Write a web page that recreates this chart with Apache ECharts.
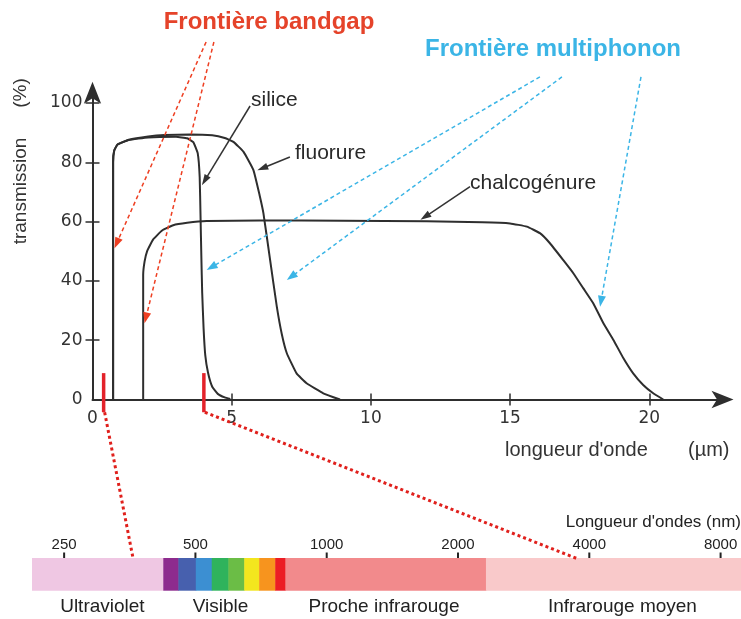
<!DOCTYPE html>
<html><head><meta charset="utf-8">
<script src="https://cdn.jsdelivr.net/npm/echarts@6/dist/echarts.min.js"></script>
<style>html,body{margin:0;padding:0;background:#fff}#c{width:741px;height:619px}</style>
</head><body><div id="c"></div>
<script>
// ---------------- DATA ----------------
// transmission (%) vs longueur d'onde (µm)
const silice = [[0.74,0],[0.74,80],[0.78,84],[0.9,86],[1.3,87.5],[2,88.4],[3,88.6],[3.4,88.1],[3.62,86.8],[3.78,83],[3.85,75],[3.88,62],[3.91,48],[3.94,36],[3.99,24],[4.05,15],[4.15,9],[4.3,4.3],[4.5,1.9],[4.75,0.7],[4.95,0.2]];
const fluorure = [[0.74,0],[0.74,80],[0.78,84],[0.9,86],[1.3,87.6],[2,88.7],[2.6,89.2],[3.5,89.4],[4.3,89.1],[4.75,88.2],[5.06,86.9],[5.42,83.6],[5.78,77.4],[6.0,69],[6.14,62.8],[6.38,47],[6.62,31.3],[6.8,22],[6.98,15.6],[7.33,8.8],[7.69,5.5],[8.29,2.1],[8.89,0]];
const chalcogenure = [[1.82,0],[1.82,42],[1.87,46.5],[1.96,50],[2.18,54],[2.5,57],[2.9,58.8],[3.4,59.6],[4.1,60.2],[6,60.4],[9,60.3],[12,60.1],[14,59.8],[15,59.4],[15.6,58.3],[16.07,56.1],[16.43,52.7],[16.91,47],[17.27,42.6],[17.63,37.5],[17.99,32.4],[18.35,25.7],[18.71,20.1],[19.07,13.9],[19.42,8.8],[19.78,4.9],[20.14,2.1],[20.5,0]];
const xTickValues = [0,5,10,15,20];
const yTickValues = [0,20,40,60,80,100];
const curveNames = ['silice','fluorure','chalcogénure'];
// red markers on the µm axis and where their dotted lines land on the nm bar
const markerUm = [0.4, 4.0];
const markerTargetNm = [360, 3770];
// spectrum bar (nm, logarithmic)
const bandEdgesNm = [211, 422, 457, 501, 545, 595, 647, 700, 762, 804, 2318, 8910];
const regionNames = ['Ultraviolet','Visible','Proche infrarouge','Infrarouge moyen'];
const regionCentersNm = [306, 571, 1353, 4765];
const spectrumTicksNm = [250, 500, 1000, 2000, 4000, 8000];

// ---------------- STYLE ----------------
const bandColors = ['#efc7e3','#8d2b8e','#4760ae','#3c8fd2','#2fb35c','#6bbd46','#f3e61e','#f7941e','#ec1c24','#f28a8c','#f9c9ca'];
const ink = '#2e2e2e';
const red = '#ee3f22';
const blue = '#3bb5e6';
const FONT = 'Liberation Sans, Arial, sans-serif';

const chart = echarts.init(document.getElementById('c'), null, {renderer:'canvas'});

const mainX = {min:0, max:22.7, interval:5};
const mainY = {min:0, max:104.5, interval:20};

const option = {
  backgroundColor:'#fff',
  animation:false,
  grid:[
    {left:92.5, right:16.5, top:89.7, bottom:219.5},
    {left:32, right:0, top:558, bottom:28.3}
  ],
  xAxis:[
    {type:'value', gridIndex:0, min:mainX.min, max:mainX.max, interval:mainX.interval,
     axisLine:{show:true, lineStyle:{color:ink, width:2}, symbol:['none','arrow'], symbolSize:[13,22], symbolOffset:[0,9]},
     axisTick:{show:true, length:6, lineStyle:{color:ink, width:1.5}, customValues: xTickValues.filter(v=>v>0)},
     axisLabel:{show:true, margin:11, color:'#333', fontSize:17, fontFamily:'DejaVu Sans', customValues:xTickValues},
     splitLine:{show:false}},
    {type:'value', gridIndex:0, min:mainX.min, max:mainX.max, interval:mainX.interval, position:'bottom',
     axisLine:{show:false},
     axisTick:{show:true, inside:true, length:6, lineStyle:{color:ink, width:1.5}, customValues: xTickValues.filter(v=>v>0)},
     axisLabel:{show:false}, splitLine:{show:false}},
    {type:'log', gridIndex:1, min:bandEdgesNm[0], max:bandEdgesNm[bandEdgesNm.length-1],
     axisLine:{show:false}, axisTick:{show:false}, axisLabel:{show:false}, splitLine:{show:false}}
  ],
  yAxis:[
    {type:'value', gridIndex:0, min:mainY.min, max:mainY.max, interval:mainY.interval,
     axisLine:{show:true, lineStyle:{color:ink, width:2}, symbol:['none','arrow'], symbolSize:[13,22], symbolOffset:[0,8]},
     axisTick:{show:true, length:7, lineStyle:{color:ink, width:1.5}, customValues: yTickValues.filter(v=>v>0)},
     axisLabel:{show:true, margin:10, color:'#333', fontSize:17, fontFamily:'DejaVu Sans', customValues:yTickValues},
     splitLine:{show:false}},
    {type:'value', gridIndex:0, min:mainY.min, max:mainY.max, interval:mainY.interval, position:'left',
     axisLine:{show:false},
     axisTick:{show:true, inside:true, length:7, lineStyle:{color:ink, width:1.5}, customValues: yTickValues.filter(v=>v>0)},
     axisLabel:{show:false}, splitLine:{show:false}},
    {type:'value', gridIndex:1, min:0, max:1, show:false, splitLine:{show:false}}
  ],
  series:[
    ...[silice, fluorure, chalcogenure].map((d,i)=>({
      type:'line', name:curveNames[i], xAxisIndex:0, yAxisIndex:0, data:d,
      showSymbol:false, symbol:'none', smooth:0.12,
      lineStyle:{color:ink, width:2}, z:3
    })),
    {type:'custom', name:'bandes', xAxisIndex:2, yAxisIndex:2, clip:false,
     data: bandEdgesNm.slice(0,-1).map((e,i)=>[e, bandEdgesNm[i+1], i]),
     encode:{x:[0,1]},
     renderItem:function(params, api){
       const p0 = api.coord([api.value(0), 1]);
       const p1 = api.coord([api.value(1), 0]);
       return {type:'rect', shape:{x:p0[0], y:p0[1], width:p1[0]-p0[0]+0.5, height:p1[1]-p0[1]},
               style:{fill:bandColors[api.value(2)]}};
     }},
    {type:'custom', name:'graduations', xAxisIndex:2, yAxisIndex:2, clip:false,
     data: spectrumTicksNm.map(v=>[v]),
     encode:{x:0},
     renderItem:function(params, api){
       const v = api.value(0);
       const p = api.coord([v, 1]);
       return {type:'group', children:[
         {type:'line', shape:{x1:p[0], y1:p[1]-5.5, x2:p[0], y2:p[1]}, style:{stroke:'#222', lineWidth:2}},
         {type:'text', x:p[0], y:p[1]-13, style:{text:String(v), fill:'#222', font:'15px '+FONT, align:'center', verticalAlign:'middle', textAlign:'center', textVerticalAlign:'middle'}}
       ]};
     }},
    {type:'custom', name:'régions', xAxisIndex:2, yAxisIndex:2, clip:false,
     data: regionCentersNm.map((v,i)=>[v,i]),
     encode:{x:0},
     renderItem:function(params, api){
       const p = api.coord([api.value(0), 0]);
       return {type:'text', x:p[0], y:p[1]+16, style:{text:regionNames[api.value(1)], fill:'#222', font:'19px '+FONT, align:'center', verticalAlign:'middle', textAlign:'center', textVerticalAlign:'middle'}};
     }}
  ]
};
chart.setOption(option);

// ---------------- annotations (positioned through the axes) ----------------
const P = p => chart.convertToPixel({xAxisIndex:0, yAxisIndex:0}, p);
const S = p => chart.convertToPixel({xAxisIndex:2, yAxisIndex:2}, p);

function arrow(a, b, color, width, dash, headLen, headW){
  const dx=b[0]-a[0], dy=b[1]-a[1], L=Math.hypot(dx,dy), ux=dx/L, uy=dy/L;
  const bx=b[0]-ux*headLen, by=b[1]-uy*headLen;
  return [
    {type:'line', shape:{x1:a[0],y1:a[1],x2:bx+ux*1,y2:by+uy*1}, style:{stroke:color, lineWidth:width, lineDash:dash}, z:10},
    {type:'polygon', shape:{points:[[b[0],b[1]],[bx-uy*headW/2, by+ux*headW/2],[bx+uy*headW/2, by-ux*headW/2]]}, style:{fill:color}, z:10}
  ];
}
function txt(x, y, s, font, color, align, rot){
  return {type:'text', x:x, y:y, rotation:rot||0, z:10,
    style:{text:s, font:font, fill:color, align:align||'left', verticalAlign:'middle', textAlign:align||'left', textVerticalAlign:'middle'}};
}

const g = [];
// titles
g.push(txt(269, 22, 'Frontière bandgap', 'bold 24px '+FONT, '#e5432a', 'center'));
g.push(txt(553, 49, 'Frontière multiphonon', 'bold 24px '+FONT, blue, 'center'));
// axis names
g.push(txt(21, 191, 'transmission', '19px '+FONT, '#333', 'center', Math.PI/2));
g.push(txt(21, 93, '(%)', '19px '+FONT, '#333', 'center', Math.PI/2));
g.push(txt(505, 450, "longueur d'onde", '20px '+FONT, '#333', 'left'));
g.push(txt(688, 450, '(µm)', '20px '+FONT, '#333', 'left'));
g.push(txt(741, 522, "Longueur d'ondes (nm)", '17px '+FONT, '#222', 'right'));
// curve labels + black arrows
g.push(txt(251, 100.5, curveNames[0], '21px '+FONT, '#2a2a2a', 'left'));
g.push(txt(295, 153, curveNames[1], '21px '+FONT, '#2a2a2a', 'left'));
g.push(txt(470, 183, curveNames[2], '21px '+FONT, '#2a2a2a', 'left'));
g.push(...arrow(P([5.66,99.0]), P([3.93,72.3]), '#333', 1.5, null, 11, 7));
g.push(...arrow(P([7.09,81.8]), P([5.92,77.3]), '#333', 1.5, null, 11, 7));
g.push(...arrow(P([13.56,71.8]), P([11.78,60.6]), '#333', 1.5, null, 11, 7));
// bandgap (red dashed)
g.push(...arrow(P([4.08,120.6]), P([0.79,51.0]), red, 1.5, [4,3], 11, 8));
g.push(...arrow(P([4.36,120.6]), P([1.87,25.7]), red, 1.5, [4,3], 11, 8));
// multiphonon (blue dashed)
g.push(...arrow(P([16.07,108.8]), P([4.10,43.7]), blue, 1.5, [4,3], 11, 8));
g.push(...arrow(P([16.86,108.8]), P([6.98,40.3]), blue, 1.5, [4,3], 11, 8));
g.push(...arrow(P([19.70,108.8]), P([18.23,31.3]), blue, 1.5, [4,3], 11, 8));
// red markers and dotted connectors to the spectrum bar
markerUm.forEach((um, i) => {
  const top = P([um, 8.9]), bot = P([um, -4.3]);
  g.push({type:'line', shape:{x1:top[0],y1:top[1],x2:bot[0],y2:bot[1]}, style:{stroke:'#e3222a', lineWidth:3.5}, z:11});
  const t = S([markerTargetNm[i], 1]);
  g.push({type:'line', shape:{x1:bot[0]+1,y1:bot[1],x2:t[0],y2:t[1]+1}, style:{stroke:'#e0201c', lineWidth:3, lineDash:[3,3]}, z:11});
});
chart.setOption({graphic:g});
</script>
</body></html>
